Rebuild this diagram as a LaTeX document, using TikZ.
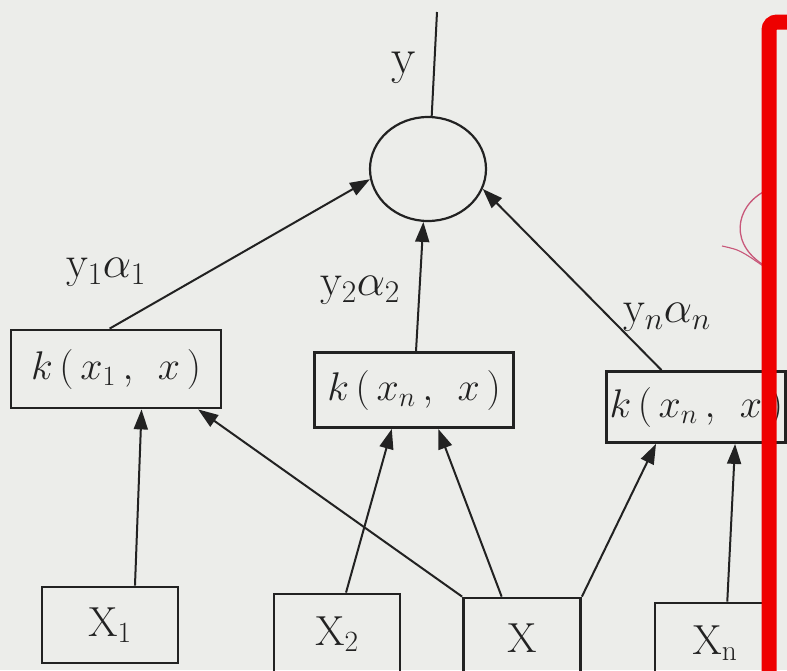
\RequirePackage{fix-cm}
\documentclass[tikz,border=0pt]{standalone}
\usetikzlibrary{arrows.meta,calc,shapes.geometric}
\definecolor{paper}{HTML}{ECEDEA}
\definecolor{ink}{HTML}{222222}
\definecolor{marker}{HTML}{EE0000}
\definecolor{pen}{HTML}{C8587A}
\begin{document}
\begin{tikzpicture}[x=1pt,y=-1pt,
  box/.style={draw=ink, line width=2.8pt, inner sep=0pt, text=ink},
  ktext/.style={font=\fontsize{40}{46}\selectfont},
  xtext/.style={font=\fontsize{42}{48}\selectfont},
  con/.style={draw=ink, line width=2pt, -{Triangle[length=20pt,width=14pt]}},
  lbl/.style={text=ink, inner sep=0pt, font=\fontsize{45}{50}\selectfont}
]
\useasboundingbox (0,0) rectangle (787,670);
\fill[paper] (0,0) rectangle (787,670);

% summation node
\node[draw=ink, line width=2.2pt, ellipse, minimum width=116pt, minimum height=104pt, inner sep=0pt] (c) at (428,169) {};
\coordinate (out) at (437,12);
\draw[ink, line width=2pt] (c.86) -- (out);
\node[lbl, font=\fontsize{50}{56}\selectfont] (ly) at (404,68) {y};

% kernel boxes
\node[box, ktext, minimum width=210pt, minimum height=78pt] (k1) at (116,369) {$k\,(\,x_1\,,\;\,x\,)$};
\node[box, ktext, minimum width=199pt, minimum height=75pt] (k2) at (414,390) {$k\,(\,x_n\,,\;\,x\,)$};
\node[box, ktext, minimum width=179pt, minimum height=71pt, text width=173pt, align=left] (kn) at (696,407) {$k\,(\,x_n\,,\;\,x\,)$};

% input boxes
\node[box, xtext, minimum width=136pt, minimum height=76pt] (X1) at (110,625) {$\mathrm{X}_1$};
\node[box, xtext, minimum width=126pt, minimum height=80pt] (X2) at (337,634) {$\mathrm{X}_2$};
\node[box, xtext, minimum width=117pt, minimum height=80pt] (X) at (522,638) {$\mathrm{X}$};
\node[box, xtext, minimum width=120pt, minimum height=80pt] (Xn) at (715,643) {$\mathrm{X}_\mathrm{n}$};

% weight labels
\node[lbl] (l1) at (106,272) {$\mathrm{y}_1\alpha_1$};
\node[lbl] (l2) at (360,290) {$\mathrm{y}_2\alpha_2$};
\node[lbl] (ln) at (667,317) {$\mathrm{y}_n\alpha_n$};

% kernel to sum
\draw[con] ($(k1.north west)!.47!(k1.north east)$) -- (c.190);
\draw[con] ($(k2.north west)!.51!(k2.north east)$) -- (c.265);
\draw[con] ($(kn.north west)!.31!(kn.north east)$) -- (c.-20);

% inputs to kernels
\draw[con] ($(X1.north west)!.68!(X1.north east)$) -- ($(k1.south west)!.62!(k1.south east)$);
\draw[con] (X.north west) -- ($(k1.south west)!.886!(k1.south east)$);
\draw[con] ($(X2.north west)!.57!(X2.north east)$) -- ($(k2.south west)!.39!(k2.south east)$);
\draw[con] ($(X.north west)!.33!(X.north east)$) -- ($(k2.south west)!.62!(k2.south east)$);
\draw[con] (X.north east) -- ($(kn.south west)!.28!(kn.south east)$);
\draw[con] ($(Xn.north west)!.6!(Xn.north east)$) -- ($(kn.south west)!.715!(kn.south east)$);

% pen scribble
\draw[pen, line width=1.3pt] (772,188) .. controls (738,200) and (726,240) .. (762,264);
\draw[pen, line width=1.1pt] (722,246) .. controls (740,250) .. (766,268);

% red marker frame
\draw[marker, line width=15pt, rounded corners=8pt] (840,22) -- (769,22) -- (769,720);
\end{tikzpicture}
\end{document}
